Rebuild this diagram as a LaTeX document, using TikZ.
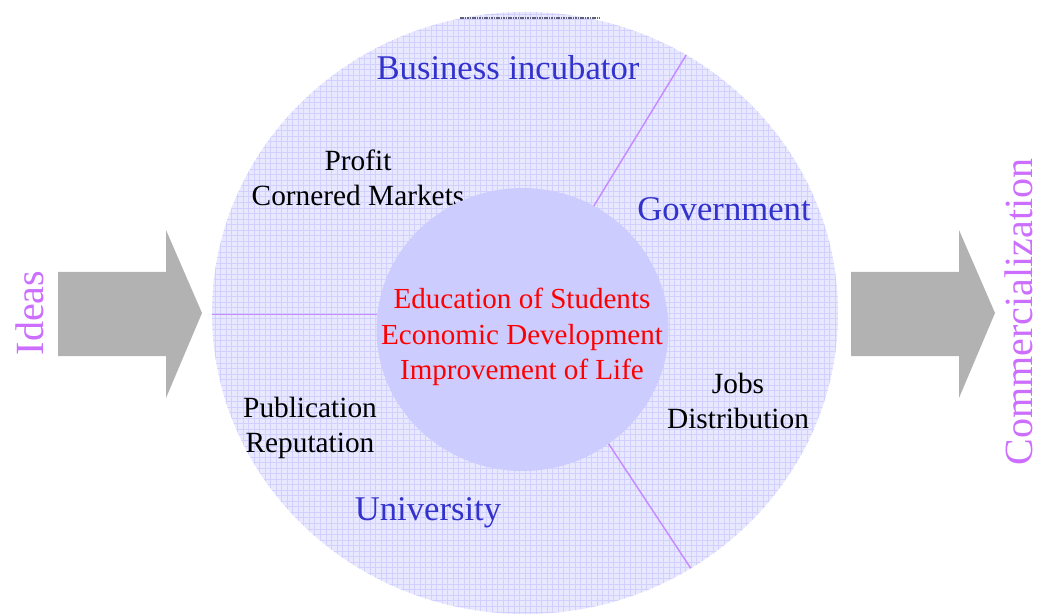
\documentclass[tikz,border=0pt]{standalone}
\usepackage{fontspec}
\setmainfont{Liberation Serif}
\usetikzlibrary{shapes.geometric}

\definecolor{ringfill}{RGB}{232,232,255}
\definecolor{gridline}{RGB}{210,208,255}
\definecolor{corefill}{RGB}{204,204,255}
\definecolor{divider}{RGB}{198,140,255}
\definecolor{actor}{RGB}{51,51,204}
\definecolor{goal}{RGB}{255,0,0}
\definecolor{flow}{RGB}{204,110,255}
\definecolor{arrowgray}{RGB}{178,178,178}
\definecolor{seam}{RGB}{95,95,120}

\begin{document}
\begin{tikzpicture}[x=0.75pt,y=-0.75pt,
  actortext/.style={text=actor,font=\fontsize{26}{30}\selectfont,inner sep=0pt},
  roletext/.style={text=black,font=\fontsize{22}{26.5}\selectfont,align=center,inner sep=0pt},
  goaltext/.style={text=goal,font=\fontsize{21.8}{26.6}\selectfont,align=center,inner sep=0pt},
  flowtext/.style={text=flow,font=\fontsize{30}{34}\selectfont,rotate=90,inner sep=0pt},
  dividerline/.style={draw=divider,line width=1.1pt},
  bigarrow/.style={fill=arrowgray,draw=none}]
\useasboundingbox (0,0) rectangle (1041,616);

% side arrows
\fill[bigarrow] (58,272) -- (166,272) -- (166,230) -- (202,313) -- (166,398) -- (166,356) -- (58,356) -- cycle;
\fill[bigarrow] (851,272) -- (959,272) -- (959,230) -- (995,313) -- (959,398) -- (959,356) -- (851,356) -- cycle;
\node[flowtext] (ideas) at (30,313) {Ideas};
\node[flowtext] (comm) at (1019,312) {Commercialization};

% outer ring with fine grid
\node[ellipse,minimum width=469.5pt,minimum height=451.5pt,inner sep=0pt,outer sep=0pt,
  fill=ringfill,
  path picture={\draw[gridline,line width=0.45pt,step=4.15pt]
    (path picture bounding box.south west) grid (path picture bounding box.north east);}]
  (ring) at (525,313) {};
\draw[seam,line width=2.2pt,dash pattern=on 1.2pt off 0.6pt] (460,18) -- (600,18);

% sector labels
\node[actortext] (incub) at (508,68) {Business incubator};
\node[actortext] (gov) at (724,209) {Government};
\node[actortext] (univ) at (428,513) {University};
\node[roletext] (profit) at (358,178) {Profit\\Cornered Markets};
\node[roletext] (jobs) at (738,401) {Jobs\\Distribution};
\node[roletext] (pub) at (310,428) {Publication\\Reputation};

% core
\node[ellipse,minimum width=219pt,minimum height=212.25pt,inner sep=0pt,outer sep=0pt,
  fill=corefill] (core) at (522.5,329.5) {};
\node[goaltext] (goals) at (522,337) {Education of Students\\Economic Development\\Improvement of Life};

% sector dividers
\draw[dividerline] (core.60.7) -- (ring.58.5);
\draw[dividerline] (core.-53.7) -- (ring.-57.9);
\draw[dividerline] (core.174.7) -- (ring.west |- core.174.7);
\end{tikzpicture}
\end{document}
